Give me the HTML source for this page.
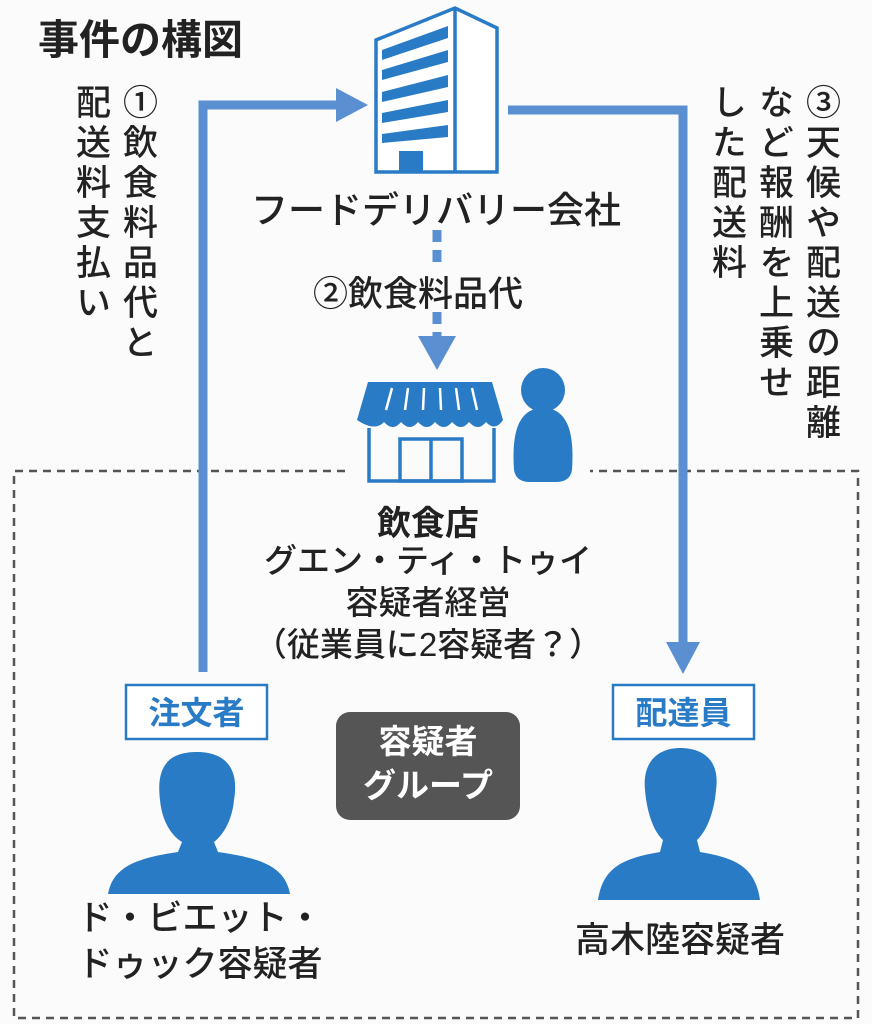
<!DOCTYPE html>
<html><head><meta charset="utf-8"><style>
body{margin:0;width:872px;height:1024px;background:#fbfbfb;position:relative;overflow:hidden;font-family:"Liberation Sans","Noto Sans CJK JP",sans-serif;color:#222}
.t{position:absolute;white-space:nowrap;font-weight:500}
.v{position:absolute;writing-mode:vertical-rl;font-size:35px;line-height:48px;letter-spacing:5px;font-weight:500}
</style></head><body>
<svg width="872" height="1024" style="position:absolute;left:0;top:0">
<path d="M345 471 H14 V1018 H858 V471 H590" fill="none" stroke="#555" stroke-width="2.5" stroke-dasharray="8,6"/>
<path d="M203 672 V105 H340" fill="none" stroke="#5a8fd2" stroke-width="9"/>
<polygon points="336,88 368,105 336,122" fill="#5a8fd2"/>
<path d="M508 110 H683 V645" fill="none" stroke="#5a8fd2" stroke-width="9"/>
<polygon points="666,642 700,642 683,674" fill="#5a8fd2"/>
<path d="M437 230 V262 M437 312 V338" fill="none" stroke="#5a8fd2" stroke-width="9" stroke-dasharray="12,8"/>
<polygon points="418,336 456,336 437,370" fill="#5a8fd2"/>
<g stroke="#2a7bc6" stroke-width="3.5" fill="#fff">
<path d="M376 40 L455 8 L497 28 V172 H376 Z"/>
<path d="M455 8 V172" fill="none"/>
</g>
<g fill="#2a7bc6">
<polygon points="382,50 448,26 448,38 382,60"/>
<polygon points="382,70 448,50 448,62 382,80"/>
<polygon points="382,92 448,75 448,87 382,102"/>
<polygon points="382,113 448,100 448,112 382,123"/>
<polygon points="382,134 448,125 448,137 382,143"/>
<rect x="399" y="151" width="24" height="21"/>
</g>
<path d="M368 382 H492 L503 420 Q495 432 486 422 Q478 432 469 422 Q461 432 452 422 Q444 432 435 422 Q427 432 418 422 Q410 432 401 422 Q393 432 384 422 Q375 432 357 420 Z" fill="#2a7bc6"/>
<g stroke="#fff" stroke-width="2.5"><path d="M386 410 L392 388 M405 410 L408 388 M423 410 L424 388 M441 410 L440 388 M459 410 L456 388 M477 410 L472 388"/></g>
<g stroke="#2a7bc6" stroke-width="3.5" fill="none">
<path d="M369 428 V481 H494 V428"/>
<rect x="400" y="439" width="62" height="42"/><path d="M431 439 V481"/>
</g>
<circle cx="543" cy="390" r="22" fill="#2a7bc6"/>
<path d="M543 408 C515 408 512 440 514 470 Q516 482 530 482 H556 Q570 482 572 470 C574 440 571 408 543 408 Z" fill="#2a7bc6"/>
<g fill="#2a7bc6">
<path d="M160 800 C155 760 175 752 197 752 C222 752 240 765 234 800 C232 822 222 836 214 842 L218 852 C260 858 285 866 290 894 H108 C113 866 138 858 178 852 L182 842 C172 836 162 822 160 800 Z"/>
<path d="M645 790 C642 760 660 748 680 748 C705 748 720 762 716 790 C714 815 705 833 697 840 L700 852 C735 858 755 866 760 900 H598 C603 866 625 858 660 852 L663 840 C655 833 647 815 645 790 Z"/>
</g>
<rect x="126" y="685" width="141" height="54" fill="#fff" stroke="#2a7bc6" stroke-width="2.5"/>
<rect x="613" y="685" width="141" height="54" fill="#fff" stroke="#2a7bc6" stroke-width="2.5"/>
<rect x="336" y="712" width="184" height="108" rx="14" fill="#555"/>
</svg>
<div class="t" style="left:38px;top:6px;font-size:41px;font-weight:bold">事件の構図</div>
<div class="t" style="left:245px;top:180px;font-size:37px;width:382px;text-align:center">フードデリバリー会社</div>
<div class="t" style="left:313px;top:266px;font-size:35px">②飲食料品代</div>
<div class="v" style="left:113px;top:84px">①飲食料品代と</div>
<div class="v" style="left:66px;top:84px">配送料支払い</div>
<div class="v" style="left:796px;top:84px">③天候や配送の距離</div>
<div class="v" style="left:749px;top:84px">など報酬を上乗せ</div>
<div class="v" style="left:702px;top:84px">した配送料</div>
<div class="t" style="left:280px;top:496px;width:296px;text-align:center;font-size:34px;font-weight:bold">飲食店</div>
<div class="t" style="left:230px;top:540px;width:396px;text-align:center;font-size:33px;line-height:42px">グエン・ティ・トゥイ<br>容疑者経営<br>（従業員に2容疑者？）</div>
<div class="t" style="left:126px;top:688px;width:141px;text-align:center;font-size:32px;font-weight:bold;color:#2a7bc6">注文者</div>
<div class="t" style="left:613px;top:688px;width:141px;text-align:center;font-size:32px;font-weight:bold;color:#2a7bc6">配達員</div>
<div class="t" style="left:336px;top:720px;width:184px;text-align:center;font-size:33px;line-height:44px;font-weight:bold;color:#fff">容疑者<br>グループ</div>
<div class="t" style="left:60px;top:896px;width:280px;text-align:center;font-size:35px;line-height:46px">ド・ビエット・<br>ドゥック容疑者</div>
<div class="t" style="left:540px;top:912px;width:280px;text-align:center;font-size:35px">高木陸容疑者</div>
</body></html>
